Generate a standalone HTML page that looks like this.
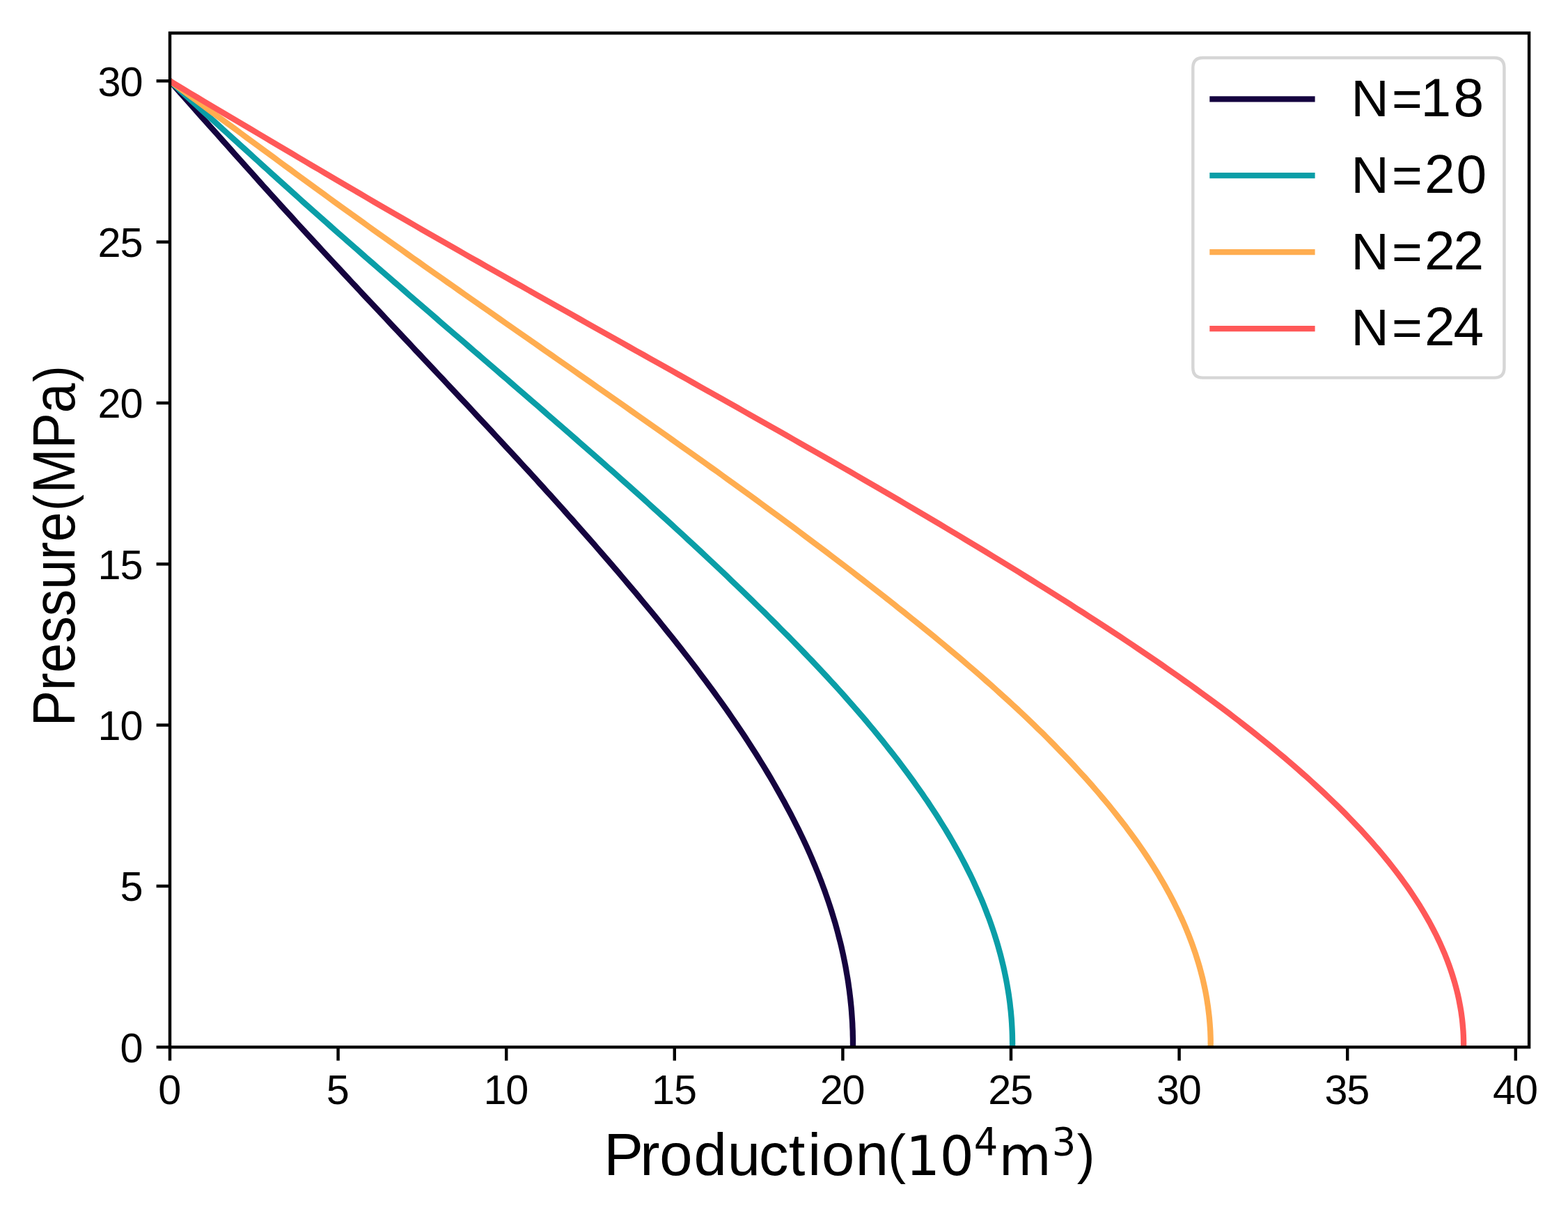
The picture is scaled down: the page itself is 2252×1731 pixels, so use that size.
<!DOCTYPE html>
<html lang="en"><head><meta charset="utf-8"><title>Pressure vs Production</title>
<style>html,body{margin:0;padding:0;background:#fff}body{width:2252px;height:1731px;overflow:hidden}svg{display:block}text{font-family:"Liberation Sans",sans-serif;fill:#000}.m{font-family:"DejaVu Sans","Liberation Sans",sans-serif}</style></head><body>
<svg width="2252" height="1731" viewBox="0 0 2252 1731">
<rect width="2252" height="1731" fill="#fff"/>
<defs><clipPath id="ax"><rect x="244.0" y="47.5" width="1952.1" height="1456.7"/></clipPath></defs>
<g clip-path="url(#ax)" fill="none" stroke-width="8.33" stroke-linecap="square" stroke-linejoin="round">
<path d="M244.0,116.3 L249.1,122.1 L254.2,127.9 L259.2,133.7 L264.4,139.4 L269.5,145.2 L274.6,151.0 L279.7,156.8 L284.9,162.6 L290.0,168.4 L295.2,174.1 L300.3,179.9 L305.5,185.7 L310.7,191.5 L315.8,197.3 L321.0,203.1 L326.1,208.8 L331.3,214.6 L336.4,220.4 L341.6,226.2 L346.8,232.0 L351.9,237.8 L357.1,243.5 L362.3,249.3 L367.4,255.1 L372.6,260.9 L377.8,266.7 L383.0,272.4 L388.2,278.2 L393.5,284.0 L398.7,289.8 L403.9,295.6 L409.2,301.4 L414.5,307.1 L419.8,312.9 L425.0,318.7 L430.3,324.5 L435.7,330.3 L441.0,336.1 L446.3,341.8 L451.6,347.6 L457.0,353.4 L462.3,359.2 L467.7,365.0 L473.0,370.8 L478.4,376.5 L483.8,382.3 L489.2,388.1 L494.5,393.9 L499.9,399.7 L505.3,405.5 L510.7,411.2 L516.1,417.0 L521.5,422.8 L526.9,428.6 L532.4,434.4 L537.8,440.2 L543.2,445.9 L548.6,451.7 L554.1,457.5 L559.5,463.3 L564.9,469.1 L570.4,474.8 L575.8,480.6 L581.2,486.4 L586.7,492.2 L592.1,498.0 L597.5,503.8 L603.0,509.5 L608.4,515.3 L613.9,521.1 L619.3,526.9 L624.7,532.7 L630.2,538.5 L635.6,544.2 L641.0,550.0 L646.5,555.8 L651.9,561.6 L657.3,567.4 L662.7,573.2 L668.2,578.9 L673.6,584.7 L679.0,590.5 L684.4,596.3 L689.8,602.1 L695.2,607.9 L700.6,613.6 L706.0,619.4 L711.3,625.2 L716.7,631.0 L722.1,636.8 L727.4,642.6 L732.8,648.3 L738.1,654.1 L743.5,659.9 L748.8,665.7 L754.1,671.5 L759.4,677.2 L764.7,683.0 L770.0,688.8 L775.2,694.6 L780.5,700.4 L785.7,706.2 L791.0,711.9 L796.2,717.7 L801.4,723.5 L806.6,729.3 L811.8,735.1 L816.9,740.9 L822.1,746.6 L827.2,752.4 L832.3,758.2 L837.4,764.0 L842.5,769.8 L847.6,775.6 L852.7,781.3 L857.7,787.1 L862.8,792.9 L867.8,798.7 L872.8,804.5 L877.8,810.3 L882.7,816.0 L887.7,821.8 L892.6,827.6 L897.5,833.4 L902.4,839.2 L907.3,845.0 L912.2,850.7 L917.0,856.5 L921.8,862.3 L926.6,868.1 L931.4,873.9 L936.2,879.6 L940.9,885.4 L945.6,891.2 L950.3,897.0 L955.0,902.8 L959.6,908.6 L964.3,914.3 L968.9,920.1 L973.4,925.9 L978.0,931.7 L982.5,937.5 L987.0,943.3 L991.5,949.0 L995.9,954.8 L1000.3,960.6 L1004.7,966.4 L1009.0,972.2 L1013.4,978.0 L1017.6,983.7 L1021.9,989.5 L1026.1,995.3 L1030.3,1001.1 L1034.5,1006.9 L1038.6,1012.7 L1042.7,1018.4 L1046.7,1024.2 L1050.7,1030.0 L1054.7,1035.8 L1058.6,1041.6 L1062.5,1047.4 L1066.4,1053.1 L1070.2,1058.9 L1074.0,1064.7 L1077.7,1070.5 L1081.4,1076.3 L1085.1,1082.1 L1088.7,1087.8 L1092.3,1093.6 L1095.9,1099.4 L1099.4,1105.2 L1102.9,1111.0 L1106.3,1116.7 L1109.7,1122.5 L1113.0,1128.3 L1116.3,1134.1 L1119.6,1139.9 L1122.8,1145.7 L1126.0,1151.4 L1129.1,1157.2 L1132.2,1163.0 L1135.3,1168.8 L1138.3,1174.6 L1141.2,1180.4 L1144.1,1186.1 L1147.0,1191.9 L1149.8,1197.7 L1152.6,1203.5 L1155.3,1209.3 L1158.0,1215.1 L1160.6,1220.8 L1163.2,1226.6 L1165.7,1232.4 L1168.1,1238.2 L1170.6,1244.0 L1172.9,1249.8 L1175.3,1255.5 L1177.5,1261.3 L1179.8,1267.1 L1181.9,1272.9 L1184.1,1278.7 L1186.1,1284.5 L1188.1,1290.2 L1190.1,1296.0 L1192.0,1301.8 L1193.9,1307.6 L1195.7,1313.4 L1197.4,1319.1 L1199.2,1324.9 L1200.8,1330.7 L1202.4,1336.5 L1203.9,1342.3 L1205.4,1348.1 L1206.9,1353.8 L1208.3,1359.6 L1209.6,1365.4 L1210.9,1371.2 L1212.1,1377.0 L1213.3,1382.8 L1214.4,1388.5 L1215.4,1394.3 L1216.4,1400.1 L1217.4,1405.9 L1218.3,1411.7 L1219.1,1417.5 L1219.9,1423.2 L1220.6,1429.0 L1221.3,1434.8 L1221.9,1440.6 L1222.5,1446.4 L1223.0,1452.2 L1223.4,1457.9 L1223.8,1463.7 L1224.2,1469.5 L1224.4,1475.3 L1224.7,1481.1 L1224.8,1486.9 L1225.0,1492.6 L1225.0,1498.4 L1225.0,1504.2" stroke="#15033f"/>
<path d="M244.0,116.3 L250.3,122.1 L256.6,127.9 L262.9,133.7 L269.2,139.4 L275.5,145.2 L281.9,151.0 L288.3,156.8 L294.6,162.6 L301.0,168.4 L307.4,174.1 L313.8,179.9 L320.1,185.7 L326.5,191.5 L332.9,197.3 L339.3,203.1 L345.6,208.8 L352.0,214.6 L358.4,220.4 L364.7,226.2 L371.1,232.0 L377.5,237.8 L383.8,243.5 L390.2,249.3 L396.6,255.1 L403.0,260.9 L409.4,266.7 L415.8,272.4 L422.2,278.2 L428.7,284.0 L435.1,289.8 L441.6,295.6 L448.1,301.4 L454.6,307.1 L461.1,312.9 L467.6,318.7 L474.2,324.5 L480.7,330.3 L487.3,336.1 L493.9,341.8 L500.4,347.6 L507.0,353.4 L513.6,359.2 L520.2,365.0 L526.8,370.8 L533.4,376.5 L540.1,382.3 L546.7,388.1 L553.4,393.9 L560.0,399.7 L566.7,405.5 L573.3,411.2 L580.0,417.0 L586.6,422.8 L593.3,428.6 L600.0,434.4 L606.7,440.2 L613.4,445.9 L620.1,451.7 L626.8,457.5 L633.4,463.3 L640.1,469.1 L646.8,474.8 L653.5,480.6 L660.3,486.4 L667.0,492.2 L673.7,498.0 L680.4,503.8 L687.1,509.5 L693.8,515.3 L700.5,521.1 L707.2,526.9 L713.9,532.7 L720.6,538.5 L727.3,544.2 L734.0,550.0 L740.7,555.8 L747.4,561.6 L754.1,567.4 L760.7,573.2 L767.4,578.9 L774.1,584.7 L780.8,590.5 L787.4,596.3 L794.1,602.1 L800.7,607.9 L807.4,613.6 L814.0,619.4 L820.6,625.2 L827.3,631.0 L833.9,636.8 L840.5,642.6 L847.1,648.3 L853.7,654.1 L860.2,659.9 L866.8,665.7 L873.3,671.5 L879.9,677.2 L886.4,683.0 L892.9,688.8 L899.4,694.6 L905.9,700.4 L912.3,706.2 L918.8,711.9 L925.2,717.7 L931.6,723.5 L938.0,729.3 L944.4,735.1 L950.7,740.9 L957.1,746.6 L963.4,752.4 L969.7,758.2 L976.0,764.0 L982.3,769.8 L988.5,775.6 L994.8,781.3 L1001.0,787.1 L1007.2,792.9 L1013.4,798.7 L1019.5,804.5 L1025.7,810.3 L1031.8,816.0 L1037.9,821.8 L1044.0,827.6 L1050.0,833.4 L1056.1,839.2 L1062.1,845.0 L1068.1,850.7 L1074.0,856.5 L1080.0,862.3 L1085.9,868.1 L1091.8,873.9 L1097.7,879.6 L1103.5,885.4 L1109.4,891.2 L1115.2,897.0 L1120.9,902.8 L1126.7,908.6 L1132.4,914.3 L1138.1,920.1 L1143.7,925.9 L1149.3,931.7 L1154.9,937.5 L1160.5,943.3 L1166.0,949.0 L1171.5,954.8 L1176.9,960.6 L1182.3,966.4 L1187.7,972.2 L1193.0,978.0 L1198.3,983.7 L1203.6,989.5 L1208.8,995.3 L1214.0,1001.1 L1219.1,1006.9 L1224.2,1012.7 L1229.2,1018.4 L1234.2,1024.2 L1239.2,1030.0 L1244.1,1035.8 L1248.9,1041.6 L1253.8,1047.4 L1258.5,1053.1 L1263.2,1058.9 L1267.9,1064.7 L1272.5,1070.5 L1277.1,1076.3 L1281.7,1082.1 L1286.1,1087.8 L1290.6,1093.6 L1295.0,1099.4 L1299.3,1105.2 L1303.6,1111.0 L1307.8,1116.7 L1312.0,1122.5 L1316.1,1128.3 L1320.2,1134.1 L1324.3,1139.9 L1328.2,1145.7 L1332.2,1151.4 L1336.0,1157.2 L1339.8,1163.0 L1343.6,1168.8 L1347.3,1174.6 L1350.9,1180.4 L1354.5,1186.1 L1358.1,1191.9 L1361.5,1197.7 L1365.0,1203.5 L1368.3,1209.3 L1371.6,1215.1 L1374.8,1220.8 L1378.0,1226.6 L1381.1,1232.4 L1384.2,1238.2 L1387.2,1244.0 L1390.1,1249.8 L1393.0,1255.5 L1395.8,1261.3 L1398.5,1267.1 L1401.2,1272.9 L1403.8,1278.7 L1406.3,1284.5 L1408.8,1290.2 L1411.3,1296.0 L1413.6,1301.8 L1415.9,1307.6 L1418.1,1313.4 L1420.3,1319.1 L1422.4,1324.9 L1424.4,1330.7 L1426.4,1336.5 L1428.3,1342.3 L1430.1,1348.1 L1431.9,1353.8 L1433.6,1359.6 L1435.2,1365.4 L1436.8,1371.2 L1438.3,1377.0 L1439.7,1382.8 L1441.1,1388.5 L1442.4,1394.3 L1443.6,1400.1 L1444.8,1405.9 L1445.9,1411.7 L1446.9,1417.5 L1447.9,1423.2 L1448.8,1429.0 L1449.6,1434.8 L1450.4,1440.6 L1451.0,1446.4 L1451.7,1452.2 L1452.2,1457.9 L1452.7,1463.7 L1453.1,1469.5 L1453.4,1475.3 L1453.7,1481.1 L1453.9,1486.9 L1454.0,1492.6 L1454.1,1498.4 L1454.1,1504.2" stroke="#0a9ea7"/>
<path d="M244.0,116.3 L251.8,122.1 L259.5,127.9 L267.3,133.7 L275.1,139.4 L283.0,145.2 L290.8,151.0 L298.7,156.8 L306.5,162.6 L314.4,168.4 L322.3,174.1 L330.2,179.9 L338.1,185.7 L346.0,191.5 L353.8,197.3 L361.7,203.1 L369.6,208.8 L377.4,214.6 L385.3,220.4 L393.2,226.2 L401.0,232.0 L408.9,237.8 L416.8,243.5 L424.6,249.3 L432.5,255.1 L440.4,260.9 L448.3,266.7 L456.2,272.4 L464.2,278.2 L472.1,284.0 L480.1,289.8 L488.1,295.6 L496.1,301.4 L504.2,307.1 L512.2,312.9 L520.3,318.7 L528.3,324.5 L536.4,330.3 L544.5,336.1 L552.7,341.8 L560.8,347.6 L568.9,353.4 L577.1,359.2 L585.2,365.0 L593.4,370.8 L601.6,376.5 L609.7,382.3 L617.9,388.1 L626.1,393.9 L634.4,399.7 L642.6,405.5 L650.8,411.2 L659.0,417.0 L667.3,422.8 L675.5,428.6 L683.8,434.4 L692.0,440.2 L700.3,445.9 L708.5,451.7 L716.8,457.5 L725.1,463.3 L733.4,469.1 L741.6,474.8 L749.9,480.6 L758.2,486.4 L766.5,492.2 L774.8,498.0 L783.0,503.8 L791.3,509.5 L799.6,515.3 L807.9,521.1 L816.2,526.9 L824.4,532.7 L832.7,538.5 L841.0,544.2 L849.3,550.0 L857.5,555.8 L865.8,561.6 L874.1,567.4 L882.3,573.2 L890.6,578.9 L898.8,584.7 L907.0,590.5 L915.3,596.3 L923.5,602.1 L931.7,607.9 L939.9,613.6 L948.1,619.4 L956.3,625.2 L964.5,631.0 L972.7,636.8 L980.8,642.6 L989.0,648.3 L997.1,654.1 L1005.2,659.9 L1013.3,665.7 L1021.4,671.5 L1029.5,677.2 L1037.5,683.0 L1045.5,688.8 L1053.6,694.6 L1061.5,700.4 L1069.5,706.2 L1077.5,711.9 L1085.4,717.7 L1093.3,723.5 L1101.2,729.3 L1109.1,735.1 L1117.0,740.9 L1124.8,746.6 L1132.6,752.4 L1140.4,758.2 L1148.2,764.0 L1155.9,769.8 L1163.6,775.6 L1171.3,781.3 L1179.0,787.1 L1186.7,792.9 L1194.3,798.7 L1201.9,804.5 L1209.5,810.3 L1217.1,816.0 L1224.6,821.8 L1232.1,827.6 L1239.6,833.4 L1247.1,839.2 L1254.5,845.0 L1261.9,850.7 L1269.3,856.5 L1276.6,862.3 L1283.9,868.1 L1291.2,873.9 L1298.5,879.6 L1305.7,885.4 L1312.9,891.2 L1320.1,897.0 L1327.2,902.8 L1334.3,908.6 L1341.4,914.3 L1348.4,920.1 L1355.4,925.9 L1362.3,931.7 L1369.2,937.5 L1376.1,943.3 L1382.9,949.0 L1389.6,954.8 L1396.4,960.6 L1403.1,966.4 L1409.7,972.2 L1416.3,978.0 L1422.8,983.7 L1429.3,989.5 L1435.7,995.3 L1442.1,1001.1 L1448.5,1006.9 L1454.8,1012.7 L1461.0,1018.4 L1467.2,1024.2 L1473.3,1030.0 L1479.3,1035.8 L1485.3,1041.6 L1491.3,1047.4 L1497.2,1053.1 L1503.0,1058.9 L1508.8,1064.7 L1514.5,1070.5 L1520.1,1076.3 L1525.7,1082.1 L1531.3,1087.8 L1536.8,1093.6 L1542.2,1099.4 L1547.5,1105.2 L1552.8,1111.0 L1558.1,1116.7 L1563.3,1122.5 L1568.4,1128.3 L1573.4,1134.1 L1578.4,1139.9 L1583.3,1145.7 L1588.1,1151.4 L1592.9,1157.2 L1597.6,1163.0 L1602.3,1168.8 L1606.8,1174.6 L1611.3,1180.4 L1615.8,1186.1 L1620.1,1191.9 L1624.4,1197.7 L1628.6,1203.5 L1632.8,1209.3 L1636.9,1215.1 L1640.9,1220.8 L1644.8,1226.6 L1648.6,1232.4 L1652.4,1238.2 L1656.1,1244.0 L1659.7,1249.8 L1663.3,1255.5 L1666.7,1261.3 L1670.1,1267.1 L1673.4,1272.9 L1676.6,1278.7 L1679.8,1284.5 L1682.8,1290.2 L1685.8,1296.0 L1688.7,1301.8 L1691.6,1307.6 L1694.3,1313.4 L1697.0,1319.1 L1699.6,1324.9 L1702.1,1330.7 L1704.5,1336.5 L1706.9,1342.3 L1709.1,1348.1 L1711.3,1353.8 L1713.4,1359.6 L1715.4,1365.4 L1717.4,1371.2 L1719.2,1377.0 L1721.0,1382.8 L1722.7,1388.5 L1724.3,1394.3 L1725.8,1400.1 L1727.3,1405.9 L1728.6,1411.7 L1729.9,1417.5 L1731.1,1423.2 L1732.2,1429.0 L1733.2,1434.8 L1734.1,1440.6 L1735.0,1446.4 L1735.7,1452.2 L1736.4,1457.9 L1737.0,1463.7 L1737.5,1469.5 L1737.9,1475.3 L1738.3,1481.1 L1738.5,1486.9 L1738.7,1492.6 L1738.7,1498.4 L1738.7,1504.2" stroke="#ffad50"/>
<path d="M244.0,116.3 L253.6,122.1 L263.2,127.9 L272.9,133.7 L282.5,139.4 L292.2,145.2 L301.9,151.0 L311.6,156.8 L321.4,162.6 L331.1,168.4 L340.9,174.1 L350.6,179.9 L360.4,185.7 L370.2,191.5 L379.9,197.3 L389.7,203.1 L399.4,208.8 L409.2,214.6 L419.0,220.4 L428.7,226.2 L438.5,232.0 L448.3,237.8 L458.1,243.5 L467.9,249.3 L477.7,255.1 L487.5,260.9 L497.3,266.7 L507.2,272.4 L517.1,278.2 L527.0,284.0 L536.9,289.8 L546.8,295.6 L556.8,301.4 L566.8,307.1 L576.8,312.9 L586.8,318.7 L596.9,324.5 L606.9,330.3 L617.0,336.1 L627.1,341.8 L637.2,347.6 L647.3,353.4 L657.4,359.2 L667.5,365.0 L677.7,370.8 L687.9,376.5 L698.0,382.3 L708.2,388.1 L718.4,393.9 L728.6,399.7 L738.9,405.5 L749.1,411.2 L759.3,417.0 L769.6,422.8 L779.8,428.6 L790.1,434.4 L800.3,440.2 L810.6,445.9 L820.9,451.7 L831.2,457.5 L841.5,463.3 L851.7,469.1 L862.0,474.8 L872.3,480.6 L882.6,486.4 L892.9,492.2 L903.2,498.0 L913.5,503.8 L923.8,509.5 L934.1,515.3 L944.5,521.1 L954.8,526.9 L965.1,532.7 L975.4,538.5 L985.6,544.2 L995.9,550.0 L1006.2,555.8 L1016.5,561.6 L1026.8,567.4 L1037.1,573.2 L1047.3,578.9 L1057.6,584.7 L1067.8,590.5 L1078.1,596.3 L1088.3,602.1 L1098.5,607.9 L1108.7,613.6 L1119.0,619.4 L1129.1,625.2 L1139.3,631.0 L1149.5,636.8 L1159.6,642.6 L1169.8,648.3 L1179.9,654.1 L1190.0,659.9 L1200.1,665.7 L1210.2,671.5 L1220.2,677.2 L1230.2,683.0 L1240.2,688.8 L1250.2,694.6 L1260.2,700.4 L1270.1,706.2 L1280.0,711.9 L1289.9,717.7 L1299.7,723.5 L1309.6,729.3 L1319.4,735.1 L1329.2,740.9 L1338.9,746.6 L1348.7,752.4 L1358.4,758.2 L1368.0,764.0 L1377.7,769.8 L1387.3,775.6 L1396.9,781.3 L1406.5,787.1 L1416.0,792.9 L1425.5,798.7 L1435.0,804.5 L1444.4,810.3 L1453.8,816.0 L1463.2,821.8 L1472.5,827.6 L1481.8,833.4 L1491.1,839.2 L1500.4,845.0 L1509.6,850.7 L1518.7,856.5 L1527.9,862.3 L1537.0,868.1 L1546.0,873.9 L1555.1,879.6 L1564.0,885.4 L1573.0,891.2 L1581.9,897.0 L1590.7,902.8 L1599.5,908.6 L1608.3,914.3 L1617.0,920.1 L1625.7,925.9 L1634.3,931.7 L1642.8,937.5 L1651.3,943.3 L1659.8,949.0 L1668.2,954.8 L1676.5,960.6 L1684.8,966.4 L1693.1,972.2 L1701.2,978.0 L1709.3,983.7 L1717.4,989.5 L1725.4,995.3 L1733.3,1001.1 L1741.2,1006.9 L1749.0,1012.7 L1756.7,1018.4 L1764.4,1024.2 L1771.9,1030.0 L1779.5,1035.8 L1786.9,1041.6 L1794.3,1047.4 L1801.6,1053.1 L1808.8,1058.9 L1816.0,1064.7 L1823.1,1070.5 L1830.1,1076.3 L1837.1,1082.1 L1844.0,1087.8 L1850.8,1093.6 L1857.5,1099.4 L1864.1,1105.2 L1870.7,1111.0 L1877.2,1116.7 L1883.6,1122.5 L1890.0,1128.3 L1896.2,1134.1 L1902.4,1139.9 L1908.5,1145.7 L1914.5,1151.4 L1920.5,1157.2 L1926.3,1163.0 L1932.1,1168.8 L1937.7,1174.6 L1943.3,1180.4 L1948.8,1186.1 L1954.3,1191.9 L1959.6,1197.7 L1964.8,1203.5 L1970.0,1209.3 L1975.0,1215.1 L1980.0,1220.8 L1984.9,1226.6 L1989.6,1232.4 L1994.3,1238.2 L1998.9,1244.0 L2003.4,1249.8 L2007.8,1255.5 L2012.1,1261.3 L2016.3,1267.1 L2020.5,1272.9 L2024.5,1278.7 L2028.4,1284.5 L2032.2,1290.2 L2035.9,1296.0 L2039.6,1301.8 L2043.1,1307.6 L2046.5,1313.4 L2049.8,1319.1 L2053.1,1324.9 L2056.2,1330.7 L2059.2,1336.5 L2062.2,1342.3 L2065.0,1348.1 L2067.7,1353.8 L2070.3,1359.6 L2072.8,1365.4 L2075.3,1371.2 L2077.6,1377.0 L2079.8,1382.8 L2081.9,1388.5 L2083.9,1394.3 L2085.8,1400.1 L2087.6,1405.9 L2089.3,1411.7 L2090.9,1417.5 L2092.4,1423.2 L2093.8,1429.0 L2095.1,1434.8 L2096.2,1440.6 L2097.3,1446.4 L2098.3,1452.2 L2099.1,1457.9 L2099.9,1463.7 L2100.5,1469.5 L2101.0,1475.3 L2101.5,1481.1 L2101.8,1486.9 L2102.0,1492.6 L2102.1,1498.4 L2102.1,1504.2" stroke="#ff5858"/>
</g>
<g stroke="#000" stroke-width="4.44" fill="none">
<line x1="244.0" y1="1504.2" x2="244.0" y2="1523.6"/>
<line x1="485.6" y1="1504.2" x2="485.6" y2="1523.6"/>
<line x1="727.2" y1="1504.2" x2="727.2" y2="1523.6"/>
<line x1="968.8" y1="1504.2" x2="968.8" y2="1523.6"/>
<line x1="1210.4" y1="1504.2" x2="1210.4" y2="1523.6"/>
<line x1="1452.0" y1="1504.2" x2="1452.0" y2="1523.6"/>
<line x1="1693.6" y1="1504.2" x2="1693.6" y2="1523.6"/>
<line x1="1935.2" y1="1504.2" x2="1935.2" y2="1523.6"/>
<line x1="2176.8" y1="1504.2" x2="2176.8" y2="1523.6"/>
<line x1="224.6" y1="1504.2" x2="244.0" y2="1504.2"/>
<line x1="224.6" y1="1272.9" x2="244.0" y2="1272.9"/>
<line x1="224.6" y1="1041.6" x2="244.0" y2="1041.6"/>
<line x1="224.6" y1="810.3" x2="244.0" y2="810.3"/>
<line x1="224.6" y1="578.9" x2="244.0" y2="578.9"/>
<line x1="224.6" y1="347.6" x2="244.0" y2="347.6"/>
<line x1="224.6" y1="116.3" x2="244.0" y2="116.3"/>
<rect x="244.0" y="47.5" width="1952.1" height="1456.7" stroke-linejoin="miter"/>
</g>
<g font-size="59.4">
<text x="227.2" y="1586.3">0</text>
<text x="468.8" y="1586.3">5</text>
<text x="694.5 726.3" y="1586.3">10</text>
<text x="936.1 967.9" y="1586.3">15</text>
<text x="1177.7 1209.5" y="1586.3">20</text>
<text x="1419.3 1451.1" y="1586.3">25</text>
<text x="1660.9 1692.7" y="1586.3">30</text>
<text x="1902.5 1934.3" y="1586.3">35</text>
<text x="2144.1 2175.9" y="1586.3">40</text>
<text x="172.4" y="1525.5">0</text>
<text x="172.4" y="1294.2">5</text>
<text x="140.6 172.4" y="1062.9">10</text>
<text x="140.6 172.4" y="831.6">15</text>
<text x="140.6 172.4" y="600.2">20</text>
<text x="140.6 172.4" y="368.9">25</text>
<text x="140.6 172.4" y="137.6">30</text>
</g>
<text y="1688" font-size="85" x="867.3 919.2 947.3 996.6 1044.7 1090 1132.8 1160.2 1180 1228.8">Production<tspan font-size="77.5" x="1275.2" y="1685.2">(</tspan><tspan class="m" font-size="77.8" x="1300.7 1349.5" y="1688">10</tspan><tspan class="m" font-size="54.4" x="1398.7" y="1659.2">4</tspan><tspan class="m" font-size="77.8" x="1434.3" y="1688">m</tspan><tspan class="m" font-size="54.4" x="1510.8" y="1659.2">3</tspan><tspan font-size="77.5" x="1546.7" y="1685.2">)</tspan></text>
<text transform="translate(107,1037) rotate(-90) scale(0.905,1)" font-size="85" x="-7" y="0">Pressure<tspan font-size="77.5" dx="2" dy="-2.8">(</tspan><tspan dx="2" dy="2.8">MPa</tspan><tspan font-size="77.5" dx="2" dy="-2.8">)</tspan></text>
<path d="M1727.7,83.0 L2146.0,83.0 Q2160.4,83.0 2160.4,97.4 L2160.4,528.2 Q2160.4,542.6 2146.0,542.6 L1727.7,542.6 Q1713.3,542.6 1713.3,528.2 L1713.3,97.4 Q1713.3,83.0 1727.7,83.0 Z" fill="#fff" fill-opacity="0.8" stroke="#d6d6d6" stroke-width="4.44"/>
<line x1="1737.3" y1="142.3" x2="1888.6" y2="142.3" stroke="#15033f" stroke-width="8.33"/>
<text y="167.3" font-size="75" x="1940.5 1998.9">N=<tspan font-size="78.5" x="2040.4 2087.6">18</tspan></text>
<line x1="1737.3" y1="252.2" x2="1888.6" y2="252.2" stroke="#0a9ea7" stroke-width="8.33"/>
<text y="276.9" font-size="75" x="1940.5 1998.9">N=<tspan font-size="78.5" x="2046.1 2091.5">20</tspan></text>
<line x1="1737.3" y1="362.2" x2="1888.6" y2="362.2" stroke="#ffad50" stroke-width="8.33"/>
<text y="386.5" font-size="75" x="1940.5 1998.9">N=<tspan font-size="78.5" x="2046.1 2087.4">22</tspan></text>
<line x1="1737.3" y1="472.2" x2="1888.6" y2="472.2" stroke="#ff5858" stroke-width="8.33"/>
<text y="496.1" font-size="75" x="1940.5 1998.9">N=<tspan font-size="78.5" x="2046.1 2087.6">24</tspan></text>
</svg></body></html>
